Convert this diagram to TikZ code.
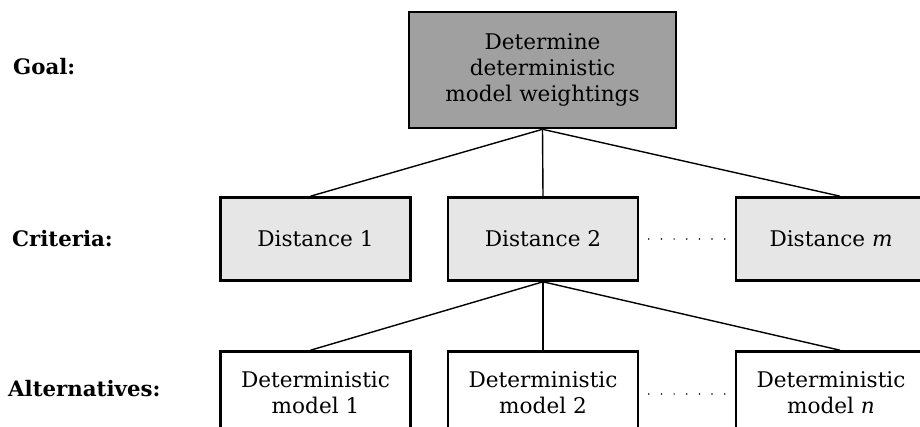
\documentclass[tikz,border=0pt]{standalone}
\usepackage{fontspec}
\setmainfont{DejaVu Serif}
\begin{document}
\begin{tikzpicture}[x=1pt,y=-1pt,
  box/.style={draw=black,line width=2.6pt,minimum width=190pt,minimum height=83pt,inner sep=0pt,align=center,font=\fontsize{21.6}{26}\selectfont},
  goalbox/.style={box,fill=goalgray,minimum width=267pt,minimum height=116pt},
  critbox/.style={box,fill=critgray},
  altbox/.style={box,fill=white},
  rowlabel/.style={anchor=west,inner sep=0pt,font=\fontsize{21.3}{24}\selectfont\bfseries},
  link/.style={line width=1.4pt},
  dotmark/.style={fill=black}
]
\definecolor{goalgray}{HTML}{A0A0A0}
\definecolor{critgray}{HTML}{E6E6E6}
\useasboundingbox (0,0) rectangle (920,427);
\clip (0,0) rectangle (920,427);

\node[rowlabel] (lgoal) at (13,67) {Goal:};
\node[rowlabel] (lcrit) at (12,239) {Criteria:};
\node[rowlabel] (lalt) at (8,389) {Alternatives:};

\node[goalbox] (goal) at (542.5,70) {Determine\\deterministic\\model weightings};

\node[critbox] (d1) at (315.5,239) {Distance 1};
\node[critbox] (d2) at (543,239) {Distance 2};
\node[critbox] (dm) at (831,239) {Distance \textit{m}};

\node[altbox] (a1) at (315.5,393) {Deterministic\\model 1};
\node[altbox] (a2) at (543,393) {Deterministic\\model 2};
\node[altbox] (an) at (831,393) {Deterministic\\model \textit{n}};

\draw[link] (goal.south) -- ([xshift=-5pt]d1.north);
\draw[link] (goal.south) -- (d2.north);
\draw[link] (goal.south) -- ([xshift=9pt]dm.north);

\draw[link] (d2.south) -- ([xshift=-5pt]a1.north);
\draw[link] (d2.south) -- (a2.north);
\draw[link] (d2.south) -- ([xshift=9pt]an.north);

\foreach \i in {0,...,6} {
  \fill[dotmark] ([xshift={9.5pt+12.65pt*\i}]d2.east) circle (0.85pt);
  \fill[dotmark] ([xshift={9.5pt+12.65pt*\i},yshift=-1pt]a2.east) circle (0.85pt);
}
\end{tikzpicture}
\end{document}
